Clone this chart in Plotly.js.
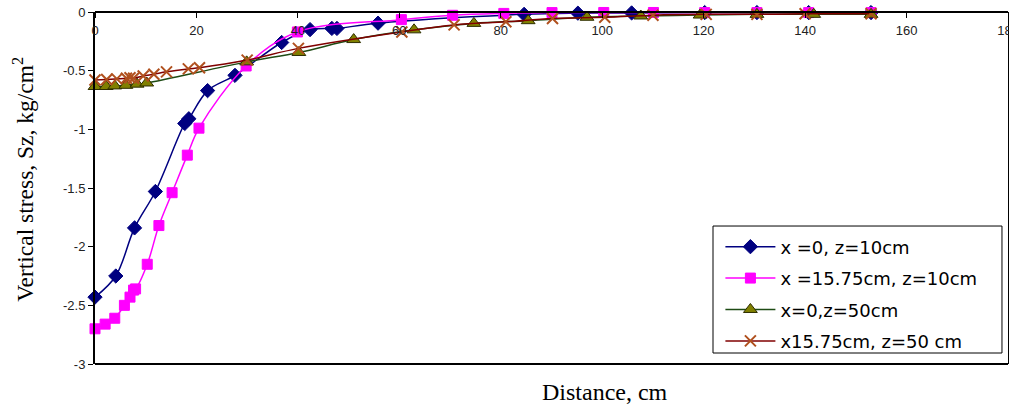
<!DOCTYPE html>
<html>
<head>
<meta charset="utf-8">
<script src="https://cdn.plot.ly/plotly-3.0.1.min.js"></script>
<style>
  html, body { margin: 0; padding: 0; background: #ffffff; }
  #chart { width: 1009px; height: 409px; }
</style>
</head>
<body>
<div id="chart"></div>
<script>
// Vertical stress Sz (kg/cm2) against horizontal distance (cm)
const s1Name = 'x =0, z=10cm';
const s1X = [0, 4.1, 7.8, 11.9, 17.7, 18.5, 22.2, 27.6, 36.8, 42.4, 46.7, 47.7, 55.8, 84.6, 95.2, 105.8, 120.2, 130.5, 140.7, 153];
const s1Y = [-2.43, -2.25, -1.84, -1.53, -0.95, -0.91, -0.67, -0.54, -0.26, -0.15, -0.14, -0.14, -0.095, -0.02, -0.01, -0.008, -0.005, -0.005, -0.005, -0.005];

const s2Name = 'x =15.75cm, z=10cm';
const s2X = [0, 2.0, 3.9, 5.8, 6.9, 7.6, 8.0, 10.3, 12.6, 15.2, 18.2, 20.5, 29.8, 39.9, 60.4, 70.5, 80.6, 90.1, 100.3, 110.1, 120.2, 130.5, 140.7, 153];
const s2Y = [-2.70, -2.66, -2.61, -2.50, -2.43, -2.37, -2.36, -2.15, -1.82, -1.54, -1.22, -0.99, -0.46, -0.17, -0.065, -0.028, -0.012, -0.005, -0.004, -0.004, -0.005, -0.005, -0.005, -0.005];

const s3Name = 'x=0,z=50cm';
const s3X = [0, 2.2, 3.9, 6.1, 8.3, 10.2, 29.9, 40.2, 51.0, 62.9, 74.7, 85.4, 97.0, 107.6, 119.3, 130.5, 141.7, 153];
const s3Y = [-0.635, -0.635, -0.63, -0.625, -0.615, -0.605, -0.425, -0.345, -0.235, -0.152, -0.097, -0.074, -0.045, -0.034, -0.026, -0.02, -0.02, -0.02];

const s4Name = 'x15.75cm, z=50 cm';
const s4X = [0, 2.3, 4.3, 6.2, 6.9, 7.6, 9.5, 11.6, 14.1, 18.4, 20.6, 30.0, 40.1, 60.5, 70.8, 81.0, 90.2, 100.5, 110.0, 120.5, 130.5, 140.0, 153];
const s4Y = [-0.58, -0.575, -0.57, -0.565, -0.56, -0.565, -0.545, -0.53, -0.51, -0.485, -0.475, -0.41, -0.31, -0.17, -0.11, -0.083, -0.055, -0.045, -0.027, -0.02, -0.02, -0.015, -0.015];

const xTickVals = [0, 20, 40, 60, 80, 100, 120, 140, 160, 180];
const xTickText = ['0', '20', '40', '60', '80', '100', '120', '140', '160', '180'];
const yTickVals = [0, -0.5, -1, -1.5, -2, -2.5, -3];
const yTickText = ['0', '-0.5', '-1', '-1.5', '-2', '-2.5', '-3'];

const xTitle = 'Distance, cm';
const yTitle = 'Vertical stress, Sz, kg/cm<sup>2</sup>';

function series(name, xs, ys, group, line, marker) {
  return {
    type: 'scatter', mode: 'lines+markers', name: name, x: xs, y: ys,
    legendgroup: group,
    line: Object.assign({ shape: 'spline', smoothing: 1, width: 1.5 }, line),
    marker: marker, cliponaxis: false
  };
}

const data = [
  series(s1Name, s1X, s1Y, 'a', { color: '#000080' },
    { symbol: 'diamond', size: 11, color: '#000080', line: { color: '#000080', width: 1 } }),
  series(s2Name, s2X, s2Y, 'b', { color: '#FF00FF' },
    { symbol: 'square', size: 10, color: '#FF00FF', line: { color: '#FF00FF', width: 1 } }),
  series(s3Name, s3X, s3Y, 'c', { color: '#1E4B14' },
    { symbol: 'triangle-up', size: 12, color: '#808000', line: { color: '#2E2E00', width: 1 } }),
  series(s4Name, s4X, s4Y, 'd', { color: '#800000' },
    { symbol: 'x-thin-open', size: 11, color: '#B0501E', line: { color: '#B0501E', width: 2 } })
];

const tickFont = { family: 'Liberation Sans, Arial, sans-serif', size: 13, color: '#222222' };

const layout = {
  width: 1009, height: 409,
  margin: { l: 95, r: 1, t: 12, b: 45, pad: 0 },
  paper_bgcolor: '#ffffff', plot_bgcolor: '#ffffff',
  showlegend: true,
  // distance axis runs along the top edge with its labels hanging inside the frame
  xaxis: {
    range: [0, 180], side: 'bottom', anchor: 'free', position: 1,
    tickmode: 'array', tickvals: xTickVals, ticktext: xTickText,
    ticks: 'outside', ticklen: 5, tickwidth: 1, tickcolor: '#000000',
    ticklabelstandoff: 1, ticklabeloverflow: 'allow', tickfont: tickFont,
    showline: true, linecolor: '#000000', linewidth: 2,
    showgrid: false, zeroline: false, fixedrange: true
  },
  yaxis: {
    range: [-3, 0],
    tickmode: 'array', tickvals: yTickVals, ticktext: yTickText,
    ticks: 'outside', ticklen: 5, tickwidth: 1, tickcolor: '#000000',
    tickfont: tickFont,
    showline: true, linecolor: '#000000', linewidth: 2, mirror: true,
    showgrid: false, zeroline: false, fixedrange: true
  },
  legend: {
    x: 0.685, y: 0.385, xanchor: 'left', yanchor: 'top',
    bgcolor: 'rgba(0,0,0,0)', borderwidth: 0,
    font: { family: 'DejaVu Sans, sans-serif', size: 18, color: '#000000' },
    itemwidth: 50, tracegroupgap: 5
  },
  shapes: [
    { type: 'line', xref: 'paper', yref: 'paper', x0: 0, x1: 1, y0: 0, y1: 0,
      line: { color: '#000000', width: 2 } },
    { type: 'rect', xref: 'paper', yref: 'paper',
      x0: 0.6769, x1: 0.9934, y0: 0.03125, y1: 0.392,
      fillcolor: '#ffffff', line: { color: '#000000', width: 1 }, layer: 'above' }
  ],
  annotations: [
    { text: xTitle, xref: 'paper', yref: 'paper', x: 0.5586, y: -0.0795,
      xanchor: 'center', yanchor: 'middle', showarrow: false,
      font: { family: 'Liberation Serif, Times New Roman, serif', size: 24, color: '#000000' } },
    { text: yTitle, xref: 'paper', yref: 'paper', x: -0.079, y: 0.5256,
      xanchor: 'center', yanchor: 'middle', showarrow: false, textangle: -90,
      font: { family: 'Liberation Serif, Times New Roman, serif', size: 23.5, color: '#000000' } }
  ]
};

Plotly.newPlot('chart', data, layout, { staticPlot: true, displayModeBar: false });
</script>
</body>
</html>
